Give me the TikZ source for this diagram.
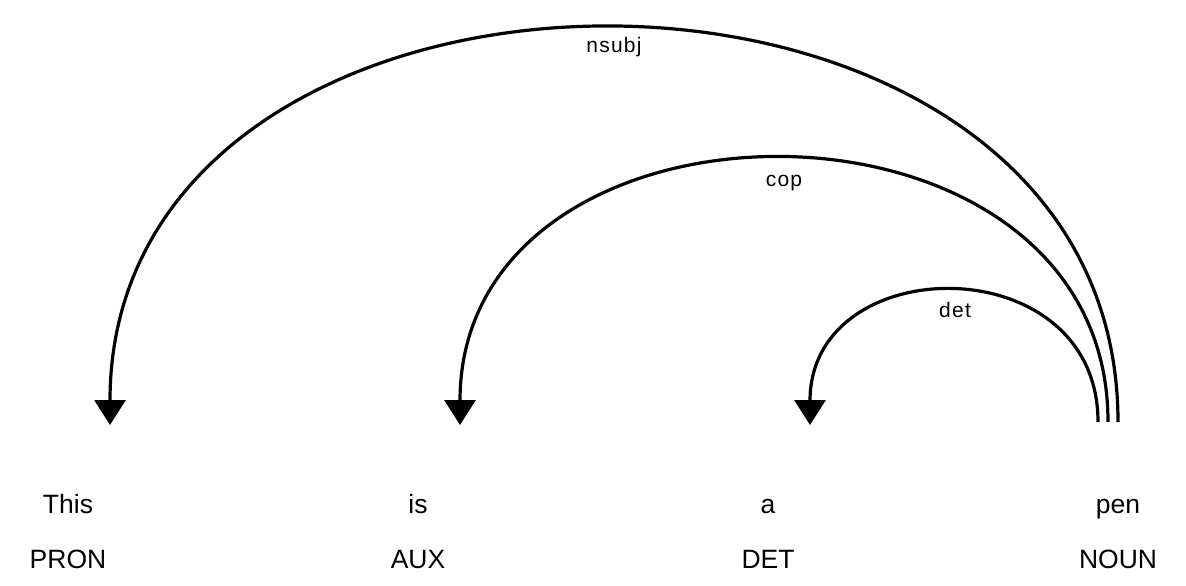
\documentclass[tikz,border=0pt]{standalone}
\usepackage{fontspec}
\setmainfont{Liberation Sans}
\usetikzlibrary{arrows.meta,positioning}
\tikzset{
word/.style={
  anchor=base,
  inner sep=0pt,
  font=\fontsize{26.5}{30}\selectfont
  },
tag/.style={word},
deplabel/.style={
  anchor=base,
  inner sep=0pt,
  font=\fontsize{21}{24}\selectfont\addfontfeature{LetterSpace=6}
  },
deparc/.style={
  line width=3.2pt,
  -{Triangle[length=25pt,width=31pt]}
  }
}

\begin{document}
\begin{tikzpicture}[x=1pt,y=-1pt]
\useasboundingbox (0,0) rectangle (1186,586);

\node[word] (this) at (68,513) {This};
\node[word] (is) at ([xshift=350pt]this.base) {is};
\node[word] (a) at ([xshift=350pt]is.base) {a};
\node[word] (pen) at ([xshift=350pt]a.base) {pen};

\node[tag] (this-tag) at ([yshift=-55pt]this.base) {PRON};
\node[tag] (is-tag) at ([yshift=-55pt]is.base) {AUX};
\node[tag] (a-tag) at ([yshift=-55pt]a.base) {DET};
\node[tag] (pen-tag) at ([yshift=-55pt]pen.base) {NOUN};

\begin{scope}
\coordinate(start) at([xshift=0pt,yshift=91pt]pen.base);
\coordinate(end) at([xshift=42pt,yshift=88pt]this.base);
\draw[deparc] (start) .. controls ([yshift=526pt]start) and ([yshift=526pt]end) .. (end);
\node[deplabel] (nsubj) at (614,53) {nsubj};
\end{scope}

\begin{scope}
\coordinate(start) at([xshift=-10pt,yshift=91pt]pen.base);
\coordinate(end) at([xshift=42pt,yshift=88pt]is.base);
\draw[deparc] (start) .. controls ([yshift=352pt]start) and ([yshift=352pt]end) .. (end);
\node[deplabel] (cop) at (784,186) {cop};
\end{scope}

\begin{scope}
\coordinate(start) at([xshift=-20pt,yshift=91pt]pen.base);
\coordinate(end) at([xshift=42pt,yshift=88pt]a.base);
\draw[deparc] (start) .. controls ([yshift=176pt]start) and ([yshift=176pt]end) .. (end);
\node[deplabel] (det) at (955,317) {det};
\end{scope}

\end{tikzpicture}
\end{document}
